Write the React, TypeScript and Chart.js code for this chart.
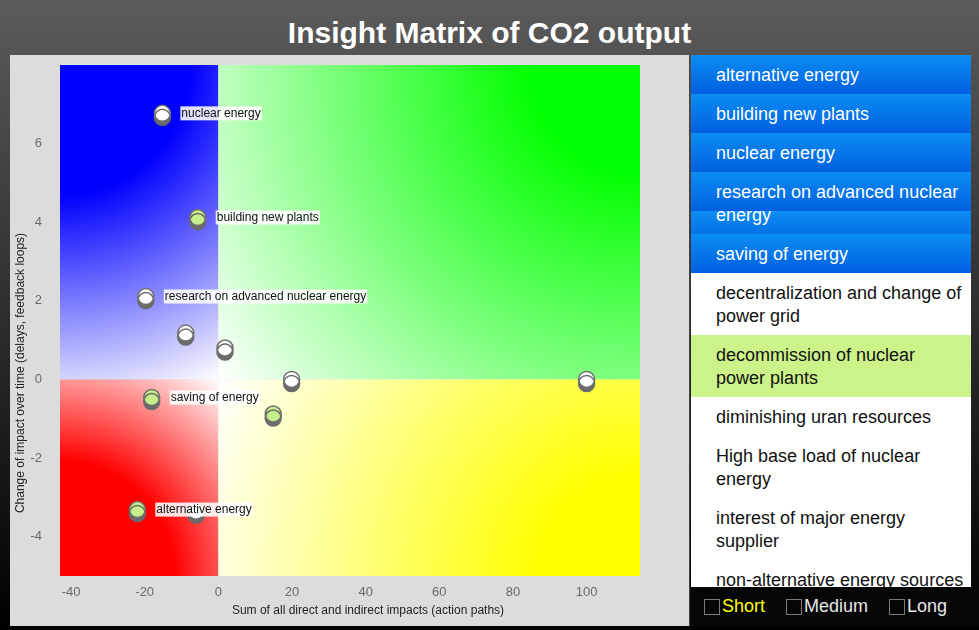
import React, { useEffect, useRef } from 'react';
import { Chart, registerables } from 'chart.js';

Chart.register(...registerables);

const TITLE = 'Insight Matrix of CO2 output';
const X_TITLE = 'Sum of all direct and indirect impacts (action paths)';
const Y_TITLE = 'Change of impact over time (delays, feedback loops)';

const X_MIN = -43;
const X_MAX = 114.5;
const Y_MIN = -5;
const Y_MAX = 8;
const xTicks = [-40, -20, 0, 20, 40, 60, 80, 100];
const yTicks = [-4, -2, 0, 2, 4, 6];

const xValues = [-15.2, -5.6, -19.7, -8.85, 1.8, 19.9, -18.1, 14.9, -22, -6.05, 100];
const yValues = [6.77, 4.12, 2.11, 1.18, 0.8, 0, -0.46, -0.88, -3.31, -3.35, 0];
const pointLabels = [
  'nuclear energy',
  'building new plants',
  'research on advanced nuclear energy',
  '',
  '',
  '',
  'saving of energy',
  '',
  'alternative energy',
  '',
  '',
];
const pointHighlighted = [false, true, false, false, false, false, true, true, true, false, false];

const listItems = [
  'alternative energy',
  'building new plants',
  'nuclear energy',
  'research on advanced nuclear energy',
  'saving of energy',
  'decentralization and change of power grid',
  'decommission of nuclear power plants',
  'diminishing uran resources',
  'High base load of nuclear energy',
  'interest of major energy supplier',
  'non-alternative energy sources',
];
const listSelected = [true, true, true, true, true, false, false, false, false, false, false];
const listHighlighted = [false, false, false, false, false, false, true, false, false, false, false];

const legendItems = ['Short', 'Medium', 'Long'];
const legendActive = [true, false, false];

const FONT = '"Liberation Sans", Arial, Helvetica, sans-serif';

const matrixPlugin = {
  id: 'matrix',
  beforeDatasetsDraw(chart: any) {
    const { ctx, chartArea: a, scales } = chart;
    const ox = scales.x.getPixelForValue(0);
    const oy = scales.y.getPixelForValue(0);
    const quads = [
      { x0: a.left, y0: a.top, x1: ox, y1: oy, cx: a.left, cy: a.top, color: '#0000ff', r0: 130 },
      { x0: ox, y0: a.top, x1: a.right, y1: oy, cx: a.right, cy: a.top, color: '#00ff00', r0: 105 },
      { x0: a.left, y0: oy, x1: ox, y1: a.bottom, cx: a.left, cy: a.bottom, color: '#ff0000', r0: 115 },
      { x0: ox, y0: oy, x1: a.right, y1: a.bottom, cx: a.right, cy: a.bottom, color: '#ffff00', r0: 100 },
    ];
    ctx.save();
    for (const q of quads) {
      const R = Math.hypot(ox - q.cx, oy - q.cy);
      const g = ctx.createRadialGradient(q.cx, q.cy, 0, q.cx, q.cy, R);
      g.addColorStop(0, q.color);
      g.addColorStop(Math.min(q.r0 / R, 0.95), q.color);
      g.addColorStop(1, '#ffffff');
      ctx.fillStyle = g;
      ctx.fillRect(q.x0, q.y0, q.x1 - q.x0, q.y1 - q.y0);
    }
    ctx.restore();
    ctx.save();
    ctx.shadowColor = '#6a6a6a';
    ctx.shadowOffsetX = 0;
    ctx.shadowOffsetY = 4;
    ctx.shadowBlur = 0;
  },
  afterDatasetsDraw(chart: any) {
    const { ctx, scales } = chart;
    ctx.restore();
    ctx.save();
    ctx.font = `12px ${FONT}`;
    ctx.textBaseline = 'middle';
    ctx.textAlign = 'left';
    pointLabels.forEach((label, i) => {
      if (!label) return;
      const px = scales.x.getPixelForValue(xValues[i]);
      const py = scales.y.getPixelForValue(yValues[i]);
      const w = ctx.measureText(label).width;
      ctx.fillStyle = 'rgba(255,255,255,0.88)';
      ctx.fillRect(px + 18, py - 7, w + 2, 14);
      ctx.fillStyle = '#111111';
      ctx.fillText(label, px + 19, py + 0.5);
    });
    ctx.restore();
  },
  afterDraw(chart: any) {
    const { ctx, chartArea: a } = chart;
    ctx.save();
    ctx.font = `12px ${FONT}`;
    ctx.fillStyle = '#222222';
    ctx.textAlign = 'center';
    ctx.textBaseline = 'middle';
    ctx.fillText(X_TITLE, a.left + 308, a.bottom + 35);
    ctx.translate(a.left - 39, a.top + 308);
    ctx.rotate(-Math.PI / 2);
    ctx.fillText(Y_TITLE, 0, 0);
    ctx.restore();
  },
};

function MatrixChart() {
  const ref = useRef<HTMLCanvasElement | null>(null);
  useEffect(() => {
    if (!ref.current) return;
    const chart = new Chart(ref.current, {
      type: 'scatter',
      data: {
        datasets: [
          {
            data: xValues.map((x, i) => ({ x, y: yValues[i] })),
            backgroundColor: pointHighlighted.map((h) => (h ? '#c6ee8a' : '#ffffff')),
            borderColor: '#6f6f6f',
            borderWidth: 1.5,
            pointRadius: 8,
            pointHoverRadius: 8,
          },
        ],
      },
      options: {
        animation: false,
        responsive: false,
        events: [],
        layout: { padding: { top: 10, right: 49, left: 0, bottom: 0 } },
        plugins: { legend: { display: false }, tooltip: { enabled: false } },
        scales: {
          x: {
            type: 'linear',
            min: X_MIN,
            max: X_MAX,
            afterBuildTicks: (axis: any) => {
              axis.ticks = xTicks.map((v) => ({ value: v }));
            },
            afterFit: (axis: any) => {
              axis.height = 50;
              axis.paddingLeft = 0;
              axis.paddingRight = 0;
            },
            grid: { display: false, drawTicks: false },
            border: { display: false },
            ticks: { color: '#6a6a6a', font: { size: 13, family: FONT }, padding: 9, maxRotation: 0, autoSkip: false },
          },
          y: {
            type: 'linear',
            min: Y_MIN,
            max: Y_MAX,
            afterBuildTicks: (axis: any) => {
              axis.ticks = yTicks.map((v) => ({ value: v }));
            },
            afterFit: (axis: any) => {
              axis.width = 50;
              axis.paddingTop = 0;
              axis.paddingBottom = 0;
            },
            grid: { display: false, drawTicks: false },
            border: { display: false },
            ticks: { color: '#6a6a6a', font: { size: 13, family: FONT }, padding: 18, autoSkip: false },
          },
        },
      },
      plugins: [matrixPlugin],
    } as any);
    return () => chart.destroy();
  }, []);
  return <canvas ref={ref} width={679} height={571} style={{ display: 'block', width: 679, height: 571 }} />;
}

export default function App() {
  return (
    <div
      style={{
        position: 'fixed',
        left: 0,
        top: 0,
        width: 979,
        height: 630,
        overflow: 'hidden',
        background: 'linear-gradient(#5b5b5b, #000000)',
        fontFamily: FONT,
      }}
    >
      <div
        style={{
          position: 'absolute',
          left: 0,
          top: 15,
          width: 979,
          textAlign: 'center',
          color: '#ffffff',
          fontWeight: 'bold',
          fontSize: 30,
          lineHeight: '36px',
        }}
      >
        {TITLE}
      </div>
      <div
        style={{
          position: 'absolute',
          left: 10,
          top: 55,
          width: 679,
          height: 571,
          background: '#dcdcdc',
          borderRight: '1px solid #444444',
        }}
      >
        <MatrixChart />
      </div>
      <div
        style={{
          position: 'absolute',
          left: 691,
          top: 55,
          width: 280,
          height: 532,
          background: '#ffffff',
          overflow: 'hidden',
        }}
      >
        {listItems.map((item, i) => (
          <div
            key={item}
            style={{
              padding: '9px 6px 7px 25px',
              lineHeight: '23px',
              fontSize: 18,
              color: listSelected[i] ? '#ffffff' : '#111111',
              background: listSelected[i]
                ? 'linear-gradient(#0b8df2, #005fe0)'
                : listHighlighted[i]
                ? '#ccf28a'
                : '#ffffff',
              backgroundSize: listSelected[i] ? '100% 39px' : undefined,
              backgroundRepeat: listSelected[i] ? 'repeat-y' : undefined,
            }}
          >
            {item}
          </div>
        ))}
      </div>
      <div
        style={{
          position: 'absolute',
          left: 690,
          top: 587,
          width: 289,
          height: 39,
          background: '#060606',
        }}
      >
        {legendItems.map((name, i) => {
          const boxLeft = [14, 96, 199][i];
          return (
            <React.Fragment key={name}>
              <div
                style={{
                  position: 'absolute',
                  left: boxLeft,
                  top: 12,
                  width: 14,
                  height: 14,
                  border: '1px solid #7a7a7a',
                }}
              />
              <div
                style={{
                  position: 'absolute',
                  left: boxLeft + 18,
                  top: 0,
                  lineHeight: '39px',
                  fontSize: 18,
                  color: legendActive[i] ? '#ffff00' : '#e6e6e6',
                }}
              >
                {name}
              </div>
            </React.Fragment>
          );
        })}
      </div>
    </div>
  );
}
